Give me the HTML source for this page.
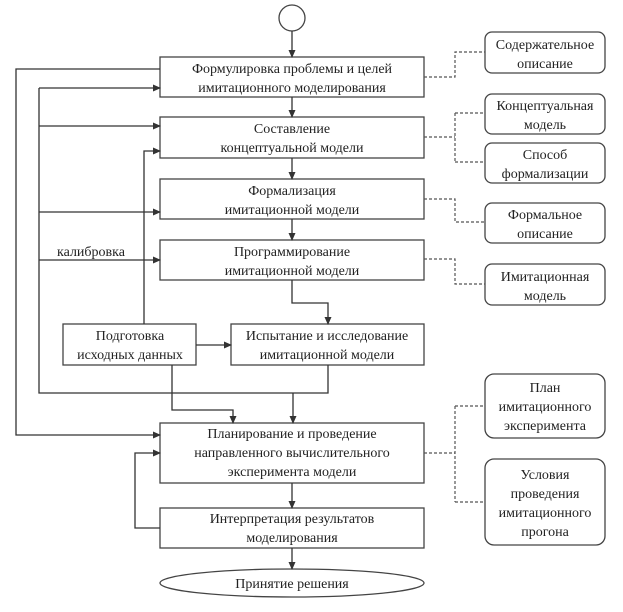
<!DOCTYPE html>
<html><head><meta charset="utf-8"><style>
html,body{margin:0;padding:0;background:#fff;}
svg{display:block;}
text{font-family:"Liberation Serif","Noto Serif CJK SC",serif;font-size:14px;fill:#222;text-anchor:middle;}
</style></head><body>
<svg width="623" height="612" viewBox="0 0 623 612" xmlns="http://www.w3.org/2000/svg">
<defs><marker id="a" markerWidth="8" markerHeight="8" refX="7" refY="4" orient="auto" markerUnits="userSpaceOnUse"><path d="M0,0.5 L8,4 L0,7.5 Z" fill="#333"/></marker></defs>
<g fill="none" stroke="#444" stroke-width="1.3">
<circle cx="292" cy="18" r="13"/>
<rect x="160" y="57" width="264" height="40"/>
<rect x="160" y="117" width="264" height="41"/>
<rect x="160" y="179" width="264" height="40"/>
<rect x="160" y="240" width="264" height="40"/>
<rect x="63" y="324" width="133" height="41"/>
<rect x="231" y="324" width="193" height="41"/>
<rect x="160" y="423" width="264" height="60"/>
<rect x="160" y="508" width="264" height="40"/>
<ellipse cx="292" cy="583" rx="132" ry="14"/>
<rect x="485" y="32" width="120" height="41" rx="7"/>
<rect x="485" y="94" width="120" height="40" rx="7"/>
<rect x="485" y="143" width="120" height="40" rx="7"/>
<rect x="485" y="203" width="120" height="40" rx="7"/>
<rect x="485" y="264" width="120" height="41" rx="7"/>
<rect x="485" y="374" width="120" height="64" rx="9"/>
<rect x="485" y="459" width="120" height="86" rx="9"/>
</g>
<g fill="none" stroke="#333" stroke-width="1.3">
<path d="M292 31 V57" marker-end="url(#a)"/>
<path d="M292 97 V117" marker-end="url(#a)"/>
<path d="M292 158 V179" marker-end="url(#a)"/>
<path d="M292 219 V240" marker-end="url(#a)"/>
<path d="M292 280 V303 H328 V324" marker-end="url(#a)"/>
<path d="M160 69 H16 V435 H160" marker-end="url(#a)"/>
<path d="M39 88 H160" marker-end="url(#a)"/>
<path d="M39 126 H160" marker-end="url(#a)"/>
<path d="M39 212 H160" marker-end="url(#a)"/>
<path d="M39 260 H160" marker-end="url(#a)"/>
<path d="M39 88 V393 H328 V365"/>
<path d="M144 324 V151 H160" marker-end="url(#a)"/>
<path d="M196 345 H231" marker-end="url(#a)"/>
<path d="M172 365 V410 H233 V423" marker-end="url(#a)"/>
<path d="M293 393 V423" marker-end="url(#a)"/>
<path d="M292 483 V508" marker-end="url(#a)"/>
<path d="M160 528 H135 V453 H160" marker-end="url(#a)"/>
<path d="M292 548 V569" marker-end="url(#a)"/>
</g>
<g fill="none" stroke="#555" stroke-width="1.2" stroke-dasharray="3,2">
<path d="M424 77 H455 V52 H485"/>
<path d="M424 137 H455 M455 113 V162 M455 113 H485 M455 162 H485"/>
<path d="M424 199 H455 V222 H485"/>
<path d="M424 259 H455 V284 H485"/>
<path d="M424 453 H455 M455 406 V502 M455 406 H485 M455 502 H485"/>
</g>
<text x="292" y="73">Формулировка проблемы и целей</text>
<text x="292" y="92">имитационного моделирования</text>
<text x="292" y="133">Составление</text>
<text x="292" y="152">концептуальной модели</text>
<text x="292" y="195">Формализация</text>
<text x="292" y="214">имитационной модели</text>
<text x="292" y="256">Программирование</text>
<text x="292" y="275">имитационной модели</text>
<text x="130" y="340">Подготовка</text>
<text x="130" y="359">исходных данных</text>
<text x="327" y="340">Испытание и исследование</text>
<text x="327" y="359">имитационной модели</text>
<text x="292" y="438">Планирование и проведение</text>
<text x="292" y="457">направленного вычислительного</text>
<text x="292" y="476">эксперимента модели</text>
<text x="292" y="523">Интерпретация результатов</text>
<text x="292" y="542">моделирования</text>
<text x="292" y="588">Принятие решения</text>
<text x="91" y="256">калибровка</text>
<text x="545" y="49">Содержательное</text>
<text x="545" y="68">описание</text>
<text x="545" y="110">Концептуальная</text>
<text x="545" y="129">модель</text>
<text x="545" y="159">Способ</text>
<text x="545" y="178">формализации</text>
<text x="545" y="219">Формальное</text>
<text x="545" y="238">описание</text>
<text x="545" y="281">Имитационная</text>
<text x="545" y="300">модель</text>
<text x="545" y="392">План</text>
<text x="545" y="411">имитационного</text>
<text x="545" y="430">эксперимента</text>
<text x="545" y="479">Условия</text>
<text x="545" y="498">проведения</text>
<text x="545" y="517">имитационного</text>
<text x="545" y="536">прогона</text>
</svg>
</body></html>
